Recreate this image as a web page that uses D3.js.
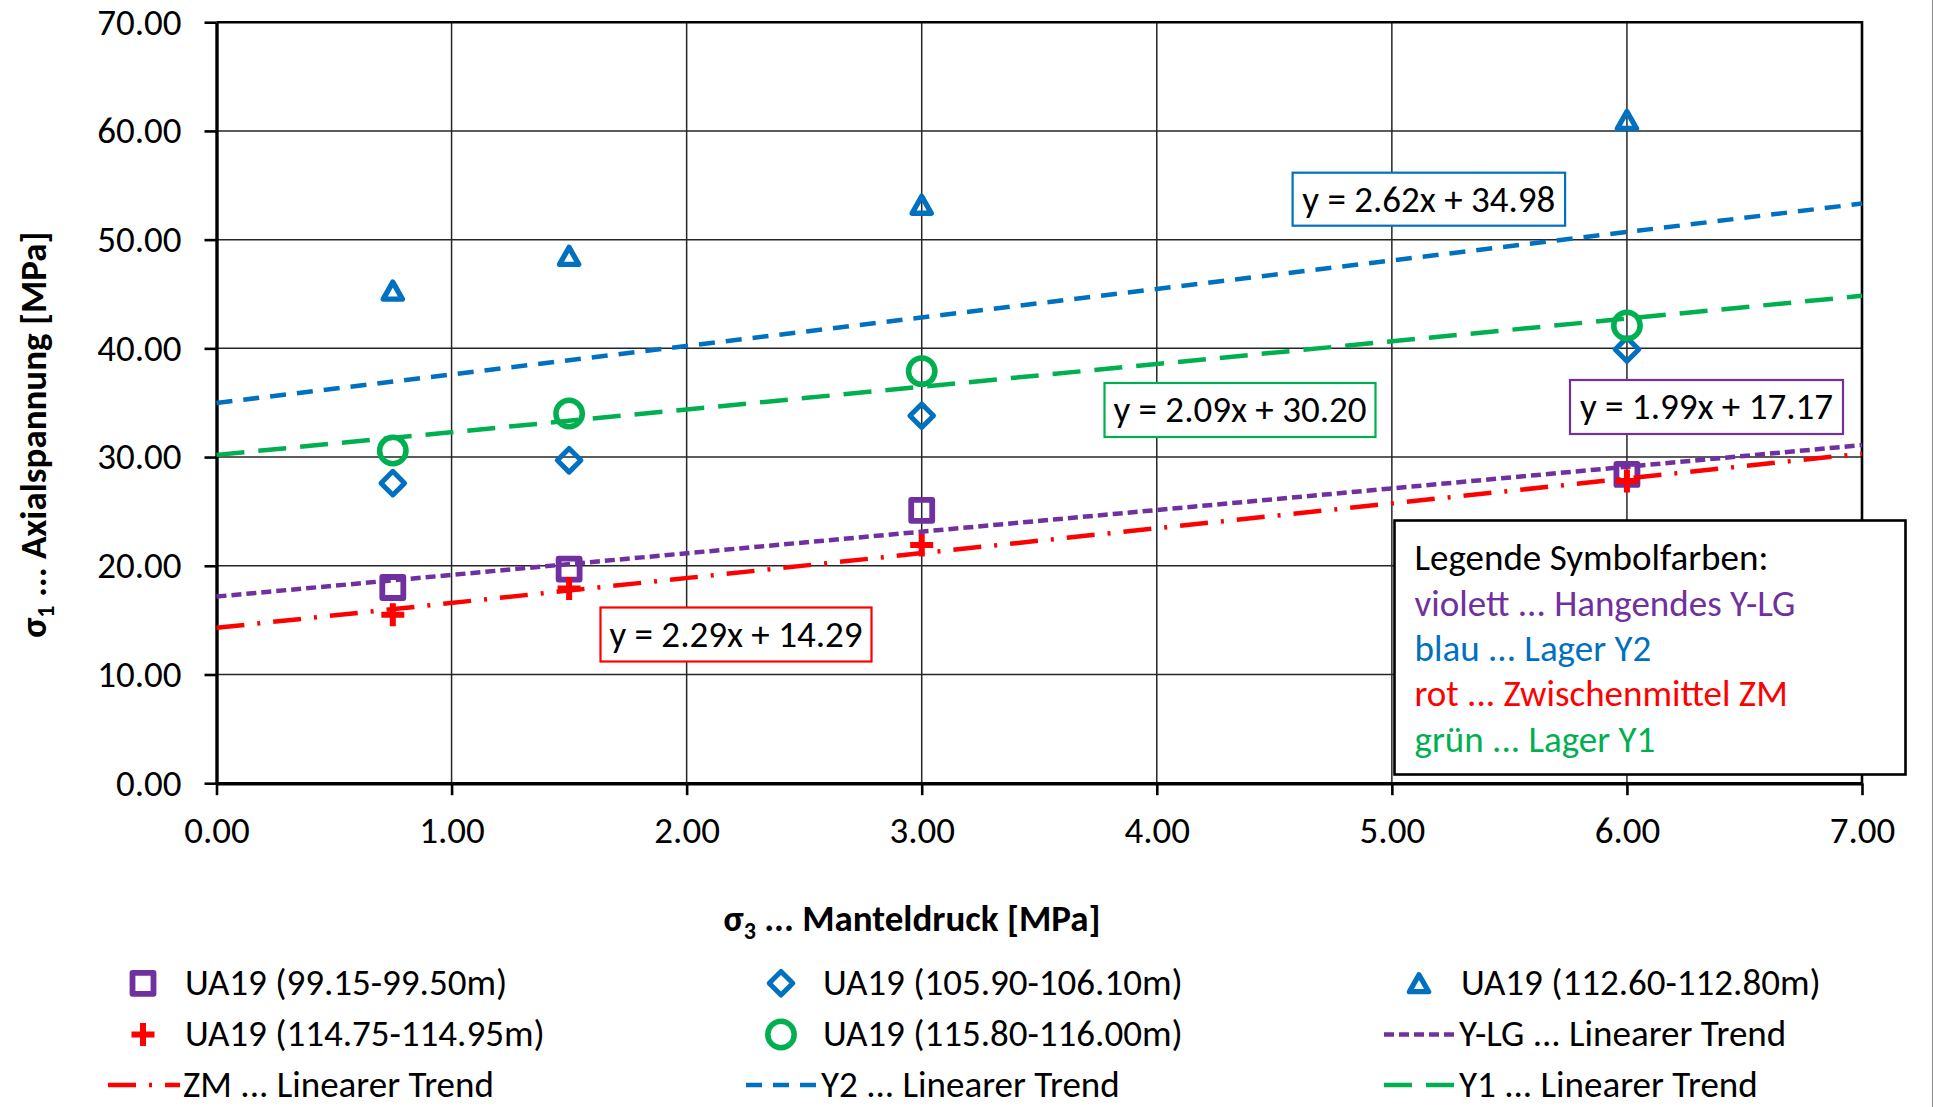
<!DOCTYPE html>
<html>
<head>
<meta charset="utf-8">
<script src="https://cdn.jsdelivr.net/npm/d3@7"></script>
<style>
  html, body { margin: 0; padding: 0; background: #fff; }
  svg { display: block; font-family: Calibri, Carlito, Lato, sans-serif; }
</style>
</head>
<body>
<svg id="chart" width="1934" height="1107"></svg>
<script>
// σ3 confining pressure levels [MPa]
const confining = [0.75, 1.5, 3.0, 6.0];

// σ1 axial stress at failure [MPa], one array per sample interval
const sampleYLG  = [18.0, 19.7, 25.1, 28.4];   // UA19 (99.15-99.50m)
const sampleY2a  = [27.6, 29.7, 33.8, 39.9];   // UA19 (105.90-106.10m)
const sampleY2b  = [45.3, 48.5, 53.2, 61.0];   // UA19 (112.60-112.80m)
const sampleZM   = [15.5, 17.9, 21.9, 27.8];   // UA19 (114.75-114.95m)
const sampleY1   = [30.6, 34.0, 37.9, 42.1];   // UA19 (115.80-116.00m)

const sampleNames = [
  "UA19 (99.15-99.50m)",
  "UA19 (105.90-106.10m)",
  "UA19 (112.60-112.80m)",
  "UA19 (114.75-114.95m)",
  "UA19 (115.80-116.00m)"
];

// linear trends: [slope, intercept]
const trendYLG = [1.99, 17.17];
const trendZM  = [2.29, 14.29];
const trendY2  = [2.62, 34.98];
const trendY1  = [2.09, 30.20];

const trendNames = [
  "Y-LG ... Linearer Trend",
  "ZM ... Linearer Trend",
  "Y2 ... Linearer Trend",
  "Y1 ... Linearer Trend"
];

const xTicks = [0, 1, 2, 3, 4, 5, 6, 7];
const yTicks = [0, 10, 20, 30, 40, 50, 60, 70];

const colorNotes = [
  "violett ... Hangendes Y-LG",
  "blau ... Lager Y2",
  "rot ... Zwischenmittel ZM",
  "grün ... Lager Y1"
];

// ---------- styling ----------
const C = { purple: "#7030A0", blue: "#0070C0", red: "#FF0000", green: "#00B050" };
const FONT = 37;
const SUB = 24;

const svg = d3.select("#chart");
const W = 1934, H = 1107;
const plot = { left: 216.5, right: 1862, top: 22.2, bottom: 783.2 };

const x = d3.scaleLinear().domain([0, 7]).range([plot.left, plot.right]);
const y = d3.scaleLinear().domain([0, 70]).range([plot.bottom, plot.top]);
const fmt = d3.format(".2f");

// chart frame edge
svg.append("line")
  .attr("x1", W - 1.5).attr("x2", W - 1.5).attr("y1", 0).attr("y2", H)
  .attr("stroke", "#8c8c8c").attr("stroke-width", 1);

// ---------- gridlines ----------
const grid = svg.append("g");
grid.selectAll("line.gx").data(xTicks.filter(d => d > 0 && d < 7)).join("line")
  .attr("class", "gx")
  .attr("x1", d => x(d)).attr("x2", d => x(d))
  .attr("y1", plot.top).attr("y2", plot.bottom)
  .attr("stroke", "#262626").attr("stroke-width", 1.5);
grid.selectAll("line.gy").data(yTicks.filter(d => d > 0 && d < 70)).join("line")
  .attr("class", "gy")
  .attr("x1", plot.left).attr("x2", plot.right)
  .attr("y1", d => y(d)).attr("y2", d => y(d))
  .attr("stroke", "#262626").attr("stroke-width", 1.5);

// plot border (top and right)
svg.append("path")
  .attr("d", `M${plot.left},${y(70)}H${x(7)}V${plot.bottom}`)
  .attr("fill", "none").attr("stroke", "#000").attr("stroke-width", 2.6);

// ---------- axes ----------
const gy = svg.append("g")
  .attr("transform", `translate(${plot.left},0)`)
  .call(d3.axisLeft(y).tickValues(yTicks).tickFormat(fmt)
    .tickSizeInner(12).tickSizeOuter(0).tickPadding(23));
gy.attr("font-family", null).attr("font-size", FONT);
gy.select(".domain").attr("stroke", "#000").attr("stroke-width", 3.4);
gy.selectAll(".tick line").attr("stroke", "#000").attr("stroke-width", 2.6);
gy.selectAll(".tick text").attr("fill", "#000");

const gx = svg.append("g")
  .attr("transform", `translate(0,${plot.bottom})`)
  .call(d3.axisBottom(x).tickValues(xTicks).tickFormat(fmt)
    .tickSizeInner(12).tickSizeOuter(0).tickPadding(21.5));
gx.attr("font-family", null).attr("font-size", FONT);
gx.select(".domain").attr("stroke", "#000").attr("stroke-width", 3.4);
gx.selectAll(".tick line").attr("stroke", "#000").attr("stroke-width", 2.6);
gx.selectAll(".tick text").attr("fill", "#000");

// axis titles
const xt = svg.append("text")
  .attr("x", 912).attr("y", 930.5)
  .attr("text-anchor", "middle").attr("font-size", FONT).attr("font-weight", "bold");
xt.append("tspan").text("σ");
xt.append("tspan").attr("font-size", SUB).attr("dy", 8).text("3");
xt.append("tspan").attr("dy", -8).text(" ... Manteldruck [MPa]");

const yt = svg.append("text")
  .attr("transform", "translate(46,434.6) rotate(-90)")
  .attr("text-anchor", "middle").attr("font-size", FONT).attr("font-weight", "bold");
yt.append("tspan").text("σ");
yt.append("tspan").attr("font-size", SUB).attr("dy", 8).text("1");
yt.append("tspan").attr("dy", -8).text(" ... Axialspannung [MPa]");

// ---------- markers ----------
function markerPath(shape) {
  const p = d3.path();
  if (shape === "square") {
    p.rect(-10.5, -10.5, 21, 21);
  } else if (shape === "diamond") {
    p.moveTo(0, -11.8); p.lineTo(11.8, 0); p.lineTo(0, 11.8); p.lineTo(-11.8, 0); p.closePath();
  } else if (shape === "triangle") {
    p.moveTo(0, -8.6); p.lineTo(9.6, 8.4); p.lineTo(-9.6, 8.4); p.closePath();
  } else if (shape === "circle") {
    p.moveTo(13.2, 0); p.arc(0, 0, 13.2, 0, 2 * Math.PI);
  } else if (shape === "cross") {
    p.moveTo(-11.5, 0); p.lineTo(11.5, 0); p.moveTo(0, -11.5); p.lineTo(0, 11.5);
  }
  return p.toString();
}

const samples = [
  { name: sampleNames[0], values: sampleYLG, color: C.purple, shape: "square",   sw: 5.8 },
  { name: sampleNames[1], values: sampleY2a, color: C.blue,   shape: "diamond",  sw: 5 },
  { name: sampleNames[2], values: sampleY2b, color: C.blue,   shape: "triangle", sw: 5.3 },
  { name: sampleNames[3], values: sampleZM,  color: C.red,    shape: "cross",    sw: 6 },
  { name: sampleNames[4], values: sampleY1,  color: C.green,  shape: "circle",   sw: 5.5 }
];

const trends = [
  { name: trendNames[0], coef: trendYLG, color: C.purple, dash: "10,5" },
  { name: trendNames[1], coef: trendZM,  color: C.red,    dash: "28,13,3,13" },
  { name: trendNames[2], coef: trendY2,  color: C.blue,   dash: "16,11" },
  { name: trendNames[3], coef: trendY1,  color: C.green,  dash: "28,14" }
];

const markG = svg.append("g");
samples.forEach(s => {
  markG.append("g").selectAll("path")
    .data(confining.map((c, i) => [c, s.values[i]]))
    .join("path")
    .attr("transform", d => `translate(${x(d[0])},${y(d[1])})`)
    .attr("d", markerPath(s.shape))
    .attr("fill", "none")
    .attr("stroke", s.color)
    .attr("stroke-width", s.sw)
    .attr("stroke-linejoin", "round");
});

// ---------- trend lines ----------
const line = d3.line().x(d => x(d[0])).y(d => y(d[1]));
const trendG = svg.append("g");
trends.forEach(t => {
  const [a, b] = t.coef;
  trendG.append("path")
    .attr("d", line([[0, b], [7, a * 7 + b]]))
    .attr("fill", "none")
    .attr("stroke", t.color)
    .attr("stroke-width", 4.5)
    .attr("stroke-dasharray", t.dash);
});

// ---------- trend equations ----------
const eqLayout = [
  { coef: trendY2,  color: C.blue,   left: 1292.6, top: 172.7, w: 272.5, h: 53 },
  { coef: trendY1,  color: C.green,  left: 1104.5, top: 383.0, w: 271,   h: 54 },
  { coef: trendYLG, color: C.purple, left: 1570.0, top: 380.0, w: 273,   h: 54 },
  { coef: trendZM,  color: C.red,    left: 600.5,  top: 607.5, w: 271,   h: 54 }
];
const eqG = svg.append("g");
eqLayout.forEach(e => {
  const g = eqG.append("g").attr("transform", `translate(${e.left},${e.top})`);
  g.append("rect").attr("width", e.w).attr("height", e.h)
    .attr("fill", "#fff").attr("stroke", e.color).attr("stroke-width", 2.2);
  g.append("text").attr("x", e.w / 2).attr("y", 39)
    .attr("text-anchor", "middle")
    .attr("font-size", FONT).attr("fill", "#000")
    .text(`y = ${fmt(e.coef[0])}x + ${fmt(e.coef[1])}`);
});

// ---------- colour key box ----------
const keyG = svg.append("g").attr("transform", "translate(1394.5,520.5)");
keyG.append("rect").attr("width", 511).attr("height", 254)
  .attr("fill", "#fff").attr("stroke", "#000").attr("stroke-width", 2.6);
const keyColors = [C.purple, C.blue, C.red, C.green];
keyG.append("text").attr("x", 20).attr("y", 49.5)
  .attr("font-size", FONT).attr("fill", "#000").text("Legende Symbolfarben:");
keyG.selectAll("text.note").data(colorNotes).join("text")
  .attr("class", "note")
  .attr("x", 20).attr("y", (d, i) => 95 + i * 45.4)
  .attr("font-size", FONT).attr("fill", (d, i) => keyColors[i])
  .text(d => d);

// ---------- series legend ----------
const legendEntries = [
  { type: "marker", s: samples[0] }, { type: "marker", s: samples[1] }, { type: "marker", s: samples[2] },
  { type: "marker", s: samples[3] }, { type: "marker", s: samples[4] }, { type: "line", t: trends[0] },
  { type: "line", t: trends[1] },    { type: "line", t: trends[2] },    { type: "line", t: trends[3] }
];
const colX = [108, 746, 1384];
const rowY = [983.3, 1034.5, 1085];
const legG = svg.append("g");
legendEntries.forEach((e, i) => {
  const cx = colX[i % 3], cy = rowY[Math.floor(i / 3)];
  const g = legG.append("g").attr("transform", `translate(${cx},${cy})`);
  if (e.type === "marker") {
    g.append("path").attr("transform", "translate(35,0)")
      .attr("d", markerPath(e.s.shape))
      .attr("fill", "none").attr("stroke", e.s.color).attr("stroke-width", e.s.sw)
      .attr("stroke-linejoin", "round");
    g.append("text").attr("x", 77).attr("y", 11.5)
      .attr("font-size", FONT).attr("fill", "#000").text(e.s.name);
  } else {
    g.append("line").attr("x1", 0).attr("x2", 72).attr("y1", 0).attr("y2", 0)
      .attr("stroke", e.t.color).attr("stroke-width", 4.5).attr("stroke-dasharray", e.t.dash);
    g.append("text").attr("x", 75).attr("y", 11.5)
      .attr("font-size", FONT).attr("fill", "#000").text(e.t.name);
  }
});
</script>
</body>
</html>
